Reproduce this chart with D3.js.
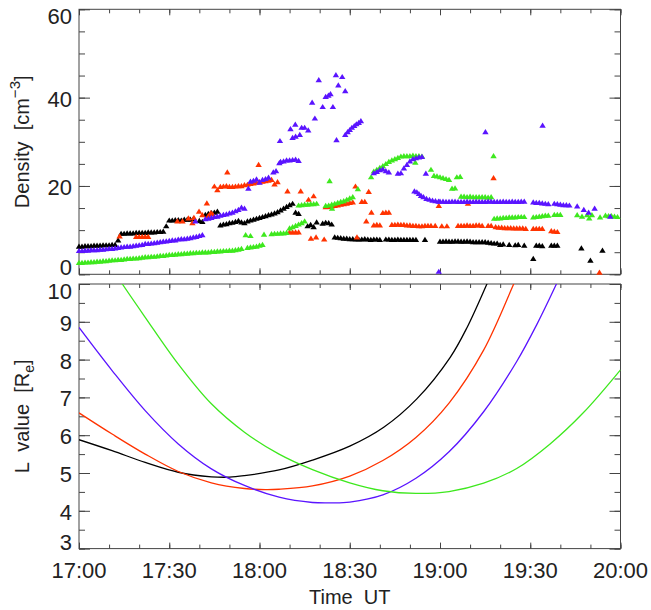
<!DOCTYPE html>
<html>
<head>
<meta charset="utf-8">
<script src="https://cdn.jsdelivr.net/npm/d3@7"></script>
<style>
  body { margin: 0; background: #fff; }
  text { font-family: "Liberation Sans", Arial, sans-serif; fill: #222; }
</style>
</head>
<body>
<script>
// time axis: minutes after 17:00
var timeLabels = ["17:00", "17:30", "18:00", "18:30", "19:00", "19:30", "20:00"];
var densLabels = [0, 20, 40, 60];
var lLabels = [3, 4, 5, 6, 7, 8, 9, 10];

// density samples: [start minute, [one value per minute ...]]
var blackDens = [
  [0, [6.3,6.3,6.4,6.4,6.4,6.5,6.5,6.5,6.6,6.6,6.6,6.7,6.7]],
  [13, [7.7]],
  [14, [9.2,9.2,9.3,9.3,9.3,9.4,9.4,9.4,9.4,9.5,9.5,9.5,9.6,9.6,9.7]],
  [29, [10.9]],
  [30, [12.2,12.2,12.3,12.3,12.2,12.4,12.4,12.4,12.5]],
  [40, [12.1,11.9]],
  [42, [13.5,13.7,13.9,14.0,14.2]],
  [47, [11.1,11.3,11.4,11.6,11.7,11.9,12.1,11.8,11.6,12.0]],
  [57, [12.2,12.4,12.6,12.8,13.0,13.2,13.4,13.6,13.8,14.1,14.5,14.9,15.3,15.7,16.0]],
  [72, [14.0,13.7]],
  [76, [10.9,11.2,10.7,11.8]],
  [81, [11.5,11.7,11.6,11.3]],
  [85, [8.4,8.3,8.2,8.1,8.1,8.0,8.0,7.9,7.9,7.9,8.0,7.9,7.8,7.9,7.9,7.8]],
  [102, [7.9,7.9,7.8,7.8,7.9,7.8,7.8,7.8,7.8,7.8,7.8]],
  [115, [7.8]],
  [120, [7.4,7.4,7.5,7.4,7.4,7.5,7.5,7.4,7.4,7.5,7.4,7.3,7.3,7.3,7.3,7.3,7.2,7.1,7.0,7.0,6.7,6.8]],
  [143, [6.7]], [145, [6.6,6.7]], [148, [6.5]], [151, [3.5,6.5,6.5,6.4]],
  [157, [6.5,6.5,6.5]], [167, [5.9]], [170, [3.1]], [174, [5.4]]
];
var redDens = [
  [13.5, [8.6]],
  [19, [8.5,8.5,8.5,8.5,8.5]],
  [32.7, [12.0]], [34.4, [12.0]], [36.4, [12.7]], [37.7, [11.6]], [38.2, [12.8]],
  [39.9, [14.2]], [41, [13.4]], [42.5, [16.1]], [43, [13.2]], [43.8, [13.9]], [44.4, [13.6]],
  [45, [19.9,19.1,19.8,19.9,20.0]], [49.3, [23.1]],
  [50, [19.8,19.8,19.9,20.0,20.0,20.2,20.3,20.5,20.6,20.8,20.9,21.0,21.1,21.2,21.4,20.4,20.9]],
  [59.7, [24.8]], [69.3, [18.8]],
  [70, [9.5,9.5,9.5,9.5]],
  [73.7, [18.8]], [76.3, [16.9]], [77.1, [8.1]], [78, [17.7]], [78.8, [8.4]], [81.5, [7.9]],
  [82, [15.2,15.3,15.4,15.5,15.6,15.8,15.9,16.0,16.2,16.3]],
  [91.9, [19.9]], [92.4, [8.4]], [94, [16.4,16.4]], [95.5, [12.0]], [96.3, [18.7]], [97.2, [14.0]],
  [98, [11.1,11.2,11.1]],
  [101, [13.9,14.0,14.0]],
  [104, [11.2,11.2,11.3,11.2,11.2,11.1,11.1,11.0,11.0,10.9,10.9,11.0,11.0,11.0]],
  [118.4, [11.0]], [119.6, [15.5]], [120.6, [10.9]], [122.3, [10.9]],
  [126, [11.0,11.0,11.0,11.1,11.0,11.0,11.1,11.1,11.0]],
  [129.3, [16.0]],
  [136, [11.0,11.0]], [137.8, [21.8]],
  [138.5, [10.7,10.6,10.6,10.5,10.5,10.5,10.4,10.4,10.4,10.4,10.3]],
  [151, [10.3,10.3,10.3,10.3]],
  [157, [9.8,9.7,9.6]],
  [173, [0.4]]
];
var blueDens = [
  [0, [5.3,5.3,5.4,5.4,5.5,5.5,5.5,5.6,5.6,5.7,5.8,5.8,5.9,6.0,6.1]],
  [15, [6.2,6.3,6.3,6.4,6.5,6.6,6.7,6.9,6.9,7.0,7.1,7.2,7.3]],
  [28, [7.4,7.5,7.6,7.7,7.7,7.9,8.0,8.0,8.1,8.2,8.4,8.5,8.7,8.9]],
  [38.7, [12.0]],
  [42, [12.5,12.6,12.8,13.0,13.1,13.3,13.5,13.6,13.8,14.0,14.3,14.6,15.1,14.9]],
  [56.3, [19.4]],
  [57, [21.0,21.2,21.5,20.8,21.4,21.6,21.9]],
  [64.6, [23.1]], [65.5, [23.4]], [66.6, [25.2]], [66.8, [30.2]],
  [67, [25.5,25.6,25.8,25.8,25.9,26.0,25.7]],
  [70.3, [32.9]], [71, [30.9,31.2]], [73.4, [31.6]], [71.9, [33.9]],
  [74, [33.2,33.2]], [76.2, [32.6]], [77.5, [38.9]], [78.4, [35.3]], [79.7, [44.0]],
  [81, [37.9]], [82, [40.2]], [82.9, [40.5]], [83.6, [40.8]], [84.4, [37.9]],
  [85.4, [45.1]], [85.6, [30.4]], [86.2, [42.8]], [87.5, [44.7]], [88.5, [41.5]],
  [88.5, [31.6]], [89.3, [32.2]], [90, [32.7]], [90.7, [33.2]], [91.5, [33.6]],
  [92.2, [34.0]], [93, [34.3]], [93.7, [34.7]],
  [98, [22.9,23.2,23.6,23.8,23.4,23.1]],
  [106, [22.8,22.9]],
  [108, [24.0,24.8,25.6,26.1,26.3,26.5,26.6]],
  [115.3, [22.8]],
  [111.5, [18.8]], [112.3, [18.6]], [113, [18.2]], [113.7, [17.8]], [114.5, [17.5]],
  [115.5, [17.1]], [116.5, [16.9]], [117.5, [16.7]], [118.5, [16.6]], [119.5, [16.5]],
  [120, [16.5,16.5,16.4,16.4,16.5,16.5,16.4,16.4,16.4,16.5,16.4,16.4,16.5,16.4,16.4,
         16.4,16.5,16.5,16.4,16.4,16.4,16.5,16.4,16.4,16.5,16.4,16.4,16.5,16.5]],
  [119.6, [0.6]], [135.1, [32.2]],
  [151, [16.3,16.2,16.2,16.1,16.0,15.9]],
  [154.1, [33.7]],
  [158, [16.0,15.9,15.8,15.7,15.7,15.6]],
  [165.6, [15.4]], [167.8, [14.6]], [169.4, [14.0]], [171.4, [14.9]], [176.6, [13.1]]
];
var greenDens = [
  [0, [2.6,2.6,2.7,2.7,2.8,2.8,2.9,2.9,3.0,3.0,3.1,3.2,3.2,3.3,3.3,3.4,3.5,3.5,3.6,3.6,3.7,3.8,
       3.9,3.9,4.0,4.0,4.1,4.2,4.2,4.3,4.4,4.4,4.5,4.6,4.6,4.7,4.7,4.8,4.8,4.9,4.9,5.0,5.0,5.0,
       5.1,5.1,5.2,5.2,5.3,5.3,5.4,5.4,5.5,5.6,5.8]],
  [55.4, [8.9]], [57, [8.7]],
  [56, [6.0,6.1,6.2,6.3,6.5,6.7]],
  [61.5, [9.0]],
  [64, [9.1,9.2,9.2,9.3,9.3,9.4]],
  [70, [10.4,10.7,11.0,11.3,11.6,12.0]],
  [73, [15.6,15.7,15.8,15.8,15.9,15.9,16.0]],
  [82, [15.5,15.6,15.8,16.0,16.2,16.4,16.6,16.9,17.2,17.5]],
  [83.3, [21.1]], [84.1, [14.9]], [92.7, [19.3]], [97.1, [22.0]],
  [98, [23.3,23.7,24.1,24.5,25.0,25.5,25.8,26.1,26.4]],
  [107, [26.7,26.8,26.8,26.8,26.9,26.8,26.8,26.7]],
  [111.8, [25.3]], [117, [23.7]],
  [118, [22.3,22.2,22.0,21.8,21.6,21.4]],
  [124, [19.4,19.5]], [125.6, [22.0]], [126.7, [22.1]],
  [127, [17.6,17.6,17.5,17.6,17.5,17.5,17.5,17.5,17.5,17.4,17.5]],
  [137.8, [26.8]],
  [138, [12.6,12.7,12.7,12.8,12.8,12.9,12.9,12.9,13.0,13.0,13.0]],
  [151, [12.9,13.0,13.1,13.2,13.3,13.3]],
  [158, [13.5,13.5,13.5]],
  [165.6, [13.4]], [167.2, [13.1]], [168.9, [13.4]], [169.6, [12.7]], [170.5, [13.4]],
  [173.2, [12.9]],
  [175, [13.3,13.2,13.2,13.1,13.0]]
];

// L value curves: [minute, L]
var blackL = [[0,5.88],[11,5.59],[22,5.28],[33,5.02],[44,4.90],[50,4.89],[55,4.93],[66.5,5.08],
  [77.6,5.34],[90,5.71],[101.3,6.21],[112.3,6.96],[123.4,8.06],[129,8.85],[135.6,10.0],[140,10.8]];
var redL = [[0,6.59],[11,6.03],[22,5.50],[33,5.04],[44,4.74],[55,4.59],[62,4.56],[66.5,4.57],
  [77.6,4.66],[90,4.92],[101,5.33],[112,5.94],[123,6.85],[134.5,8.25],[144.5,10.0],[148,10.65]];
var blueL = [[0,8.85],[11,7.71],[22,6.65],[33,5.77],[44,5.11],[55,4.67],[66.5,4.36],[77.6,4.22],
  [84,4.21],[90,4.23],[101,4.42],[112,4.86],[123,5.56],[134.5,6.62],[145.5,7.95],[152,8.90],
  [158.7,10.0],[162,10.58]];
var greenL = [[10,10.55],[14.4,10.0],[22,9.12],[33,7.88],[44,6.83],[55,6.08],[66.5,5.50],
  [77.6,5.09],[90,4.74],[101,4.53],[112,4.46],[123,4.51],[134.5,4.73],[145.5,5.12],
  [156.6,5.77],[167.7,6.60],[180,7.73]];

var colors = { black: "#000000", red: "#ff3300", blue: "#5a14ff", green: "#3ee81e" };

var width = 651, height = 610;
var border = { left: 79, right: 620.5, top1: 9.3, bot1: 274.3, top2: 284, bot2: 548.6 };

var svg = d3.select("body").append("svg")
  .attr("width", width)
  .attr("height", height);

var x = d3.scaleLinear().domain([0, 180]).range([border.left, border.right]);
var yD = d3.scaleLinear().domain([0, 60]).range([border.bot1, border.top1]);
var yL = d3.scaleLinear().domain([3, 10]).range([border.bot2, border.top2]);

// expand segments into points
function points(segs) {
  var out = [];
  segs.forEach(function (s) {
    s[1].forEach(function (v, i) { out.push([s[0] + i, v]); });
  });
  return out;
}

svg.append("clipPath").attr("id", "clipL")
  .append("rect")
  .attr("x", border.left).attr("y", border.top2)
  .attr("width", border.right - border.left).attr("height", border.bot2 - border.top2);

// tick helper: draws ticks only, no domain line
function tickAxis(axis, tx, ty) {
  var g = svg.append("g")
    .attr("transform", "translate(" + tx + "," + ty + ")")
    .call(axis.tickFormat(""));
  g.select(".domain").remove();
  g.selectAll("line").attr("stroke", "#444").attr("stroke-width", 1);
}

var minorX = d3.range(0, 181, 10), majorX = d3.range(0, 181, 30);

function panelTicks(y, top, bot, minorY, majorY) {
  tickAxis(d3.axisBottom(x).tickValues(minorX).tickSize(-4), 0, bot);
  tickAxis(d3.axisBottom(x).tickValues(majorX).tickSize(-6), 0, bot);
  tickAxis(d3.axisTop(x).tickValues(minorX).tickSize(-4), 0, top);
  tickAxis(d3.axisTop(x).tickValues(majorX).tickSize(-6), 0, top);
  tickAxis(d3.axisLeft(y).tickValues(minorY).tickSize(-6), border.left, 0);
  tickAxis(d3.axisLeft(y).tickValues(majorY).tickSize(-11), border.left, 0);
  tickAxis(d3.axisRight(y).tickValues(minorY).tickSize(-6), border.right, 0);
  tickAxis(d3.axisRight(y).tickValues(majorY).tickSize(-11), border.right, 0);
  svg.append("rect")
    .attr("x", border.left).attr("y", top)
    .attr("width", border.right - border.left).attr("height", bot - top)
    .attr("fill", "none").attr("stroke", "#444").attr("stroke-width", 1);
}

panelTicks(yD, border.top1, border.bot1, d3.range(0, 61, 5), densLabels);
panelTicks(yL, border.top2, border.bot2, d3.range(3, 10.01, 0.5), lLabels);

// y tick labels, end labels pulled inside the panel like IDL does
function yLabels(y, vals, top, bot) {
  svg.append("g").selectAll("text")
    .data(vals).enter().append("text")
    .attr("x", 72)
    .attr("y", function (d) { return Math.min(Math.max(y(d) + 1, top + 7), bot - 7); })
    .attr("dy", "0.36em")
    .attr("text-anchor", "end")
    .style("font-size", "22px")
    .text(function (d) { return d; });
}
yLabels(yD, densLabels, border.top1, border.bot1);
yLabels(yL, lLabels, border.top2, border.bot2);

// x tick labels
svg.append("g").selectAll("text")
  .data(timeLabels).enter().append("text")
  .attr("x", function (d, i) { return x(majorX[i]); })
  .attr("y", 578)
  .attr("text-anchor", "middle")
  .style("font-size", "22px")
  .text(function (d) { return d; });

// axis titles
svg.append("text")
  .attr("x", (border.left + border.right) / 2)
  .attr("y", 604)
  .attr("text-anchor", "middle")
  .style("font-size", "20px")
  .style("white-space", "pre")
  .text("Time  UT");

var t1 = svg.append("text")
  .attr("transform", "translate(29," + (border.top1 + border.bot1) / 2 + ") rotate(-90)")
  .attr("text-anchor", "middle")
  .style("font-size", "20px")
  .style("white-space", "pre");
t1.append("tspan").text("Density  [cm");
t1.append("tspan").attr("dy", -9).style("font-size", "15px").text("\u22123");
t1.append("tspan").attr("dy", 9).text("]");

var t2 = svg.append("text")
  .attr("transform", "translate(29," + (border.top2 + border.bot2) / 2 + ") rotate(-90)")
  .attr("text-anchor", "middle")
  .style("font-size", "20px")
  .style("white-space", "pre");
t2.append("tspan").text("L  value  [R");
t2.append("tspan").attr("dy", 5).style("font-size", "14px").text("e");
t2.append("tspan").attr("dy", -5).text("]");

// density triangles
var tri = "M0,-3L3.2,2.2L-3.2,2.2Z";
[["black", blackDens], ["red", redDens], ["green", greenDens], ["blue", blueDens]].forEach(function (s) {
  svg.append("g").selectAll("path")
    .data(points(s[1])).enter().append("path")
    .attr("d", tri)
    .attr("transform", function (d) { return "translate(" + x(d[0]) + "," + yD(d[1]) + ")"; })
    .attr("fill", colors[s[0]]);
});

// L value lines, smooth through the read points
var line = d3.line()
  .curve(d3.curveCatmullRom.alpha(0.5))
  .x(function (d) { return x(d[0]); })
  .y(function (d) { return yL(d[1]); });

[["black", blackL], ["red", redL], ["blue", blueL], ["green", greenL]].forEach(function (s) {
  svg.append("path")
    .attr("d", line(s[1]))
    .attr("clip-path", "url(#clipL)")
    .attr("fill", "none")
    .attr("stroke", colors[s[0]])
    .attr("stroke-width", 1.3);
});
</script>
</body>
</html>
